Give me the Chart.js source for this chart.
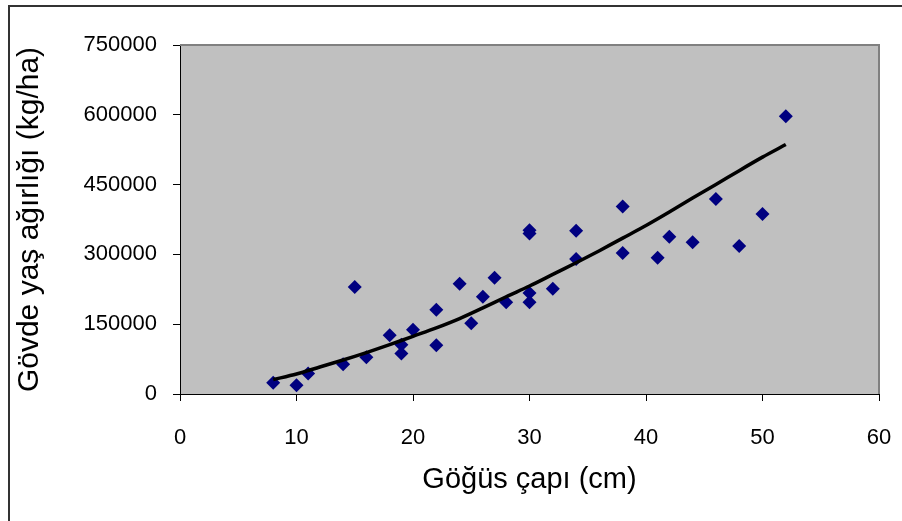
<!DOCTYPE html>
<html>
<head>
<meta charset="utf-8">
<script src="https://cdn.jsdelivr.net/npm/chart.js@4/dist/chart.umd.min.js"></script>
<style>
  html, body { margin: 0; padding: 0; background: #fff; }
  #wrap { width: 902px; height: 521px; position: relative; }
</style>
</head>
<body>
<div id="wrap"><canvas id="c" width="902" height="521"></canvas></div>
<script>
// Göğüs çapı (cm) vs gövde yaş ağırlığı (kg/ha)
const diameter = [8, 10, 11, 14, 15, 16, 18, 19, 19, 20, 22, 22, 24, 25, 26, 27, 28,
  30, 30, 30, 30, 32, 34, 34, 38, 38, 41, 42, 44, 46, 48, 50, 52];
const weight = [24000, 19000, 44000, 64000, 230000, 79000, 126000, 106000, 87000, 138000,
  181000, 105000, 237000, 152000, 209000, 250000, 197000,
  197000, 217000, 352000, 345000, 226000, 351000, 290000, 403000, 303000,
  293000, 338000, 326000, 419000, 318000, 387000, 597000];

// trend line
const trendX = [8, 10, 12, 14, 16, 18, 20, 22, 24, 26, 28, 30, 32, 34, 36, 38, 40, 42, 44, 46, 48, 50, 52];
const trendY = [31000, 43000, 58000, 73000, 89000, 106000, 124000, 142000, 162000, 185000, 209000,
  232000, 257000, 282000, 308000, 335000, 362000, 391000, 421000, 450000, 480000, 509000, 536000];

const yTicks = [0, 150000, 300000, 450000, 600000, 750000];
const xTicks = [0, 10, 20, 30, 40, 50, 60];

const FONT = "'Liberation Sans', Arial, sans-serif";

// gray plot area + frame, outer chart border (left/top only visible)
const frame = {
  id: 'frame',
  beforeDraw(chart) {
    const { ctx, chartArea: a } = chart;
    ctx.save();
    ctx.fillStyle = '#c0c0c0';
    ctx.fillRect(a.left, a.top, a.right - a.left, a.bottom - a.top);
    ctx.strokeStyle = '#333';
    ctx.lineWidth = 2;
    ctx.beginPath();
    ctx.moveTo(9, 521);
    ctx.lineTo(9, 6);
    ctx.lineTo(902, 6);
    ctx.stroke();
    ctx.restore();
  },
  afterDatasetsDraw(chart) {
    const { ctx, chartArea: a } = chart;
    ctx.save();
    ctx.strokeStyle = '#808080';
    ctx.lineWidth = 2;
    ctx.beginPath();
    ctx.moveTo(a.left, a.top);
    ctx.lineTo(a.right, a.top);
    ctx.lineTo(a.right, a.bottom);
    ctx.stroke();
    ctx.restore();
  }
};

new Chart(document.getElementById('c'), {
  type: 'scatter',
  data: {
    datasets: [
      {
        label: 'Gözlem',
        data: diameter.map((x, i) => ({ x, y: weight[i] })),
        pointStyle: 'rectRot',
        pointRadius: 7,
        pointBackgroundColor: '#000080',
        pointBorderColor: '#000080',
        pointBorderWidth: 0,
        order: 2
      },
      {
        label: 'Eğilim',
        type: 'line',
        data: trendX.map((x, i) => ({ x, y: trendY[i] })),
        borderColor: '#000',
        borderWidth: 3.5,
        pointRadius: 0,
        tension: 0.3,
        fill: false,
        order: 1
      }
    ]
  },
  options: {
    responsive: false,
    animation: false,
    events: [],
    layout: { padding: { left: 0, top: 45, right: 23, bottom: 0 } },
    plugins: { legend: { display: false }, tooltip: { enabled: false } },
    scales: {
      x: {
        type: 'linear',
        min: 0, max: 60,
        afterFit: s => { s.height = 127; s.paddingLeft = 0; s.paddingRight = 0; },
        afterBuildTicks: s => { s.ticks = xTicks.map(v => ({ value: v })); },
        grid: { drawOnChartArea: false, drawTicks: true, tickLength: 7, color: '#000', lineWidth: 1 },
        border: { color: '#000', width: 1 },
        ticks: { color: '#000', padding: 24, font: { family: FONT, size: 22 }, callback: v => String(v) },
        title: {
          display: true, text: 'Göğüs çapı (cm)', color: '#000',
          font: { family: FONT, size: 29 }, padding: { top: 0, bottom: 24 }
        }
      },
      y: {
        type: 'linear',
        min: 0, max: 750000,
        afterFit: s => { s.width = 180; },
        afterBuildTicks: s => { s.ticks = yTicks.map(v => ({ value: v })); },
        grid: { drawOnChartArea: false, drawTicks: true, tickLength: 7, color: '#000', lineWidth: 1 },
        border: { color: '#000', width: 1 },
        ticks: { color: '#000', padding: 16, font: { family: FONT, size: 22 }, callback: v => String(v) },
        title: {
          display: true, text: 'Gövde yaş ağırlığı (kg/ha)', color: '#000',
          font: { family: FONT, size: 30 }, padding: { top: 12, bottom: 0 }
        }
      }
    }
  },
  plugins: [frame]
});
</script>
</body>
</html>
